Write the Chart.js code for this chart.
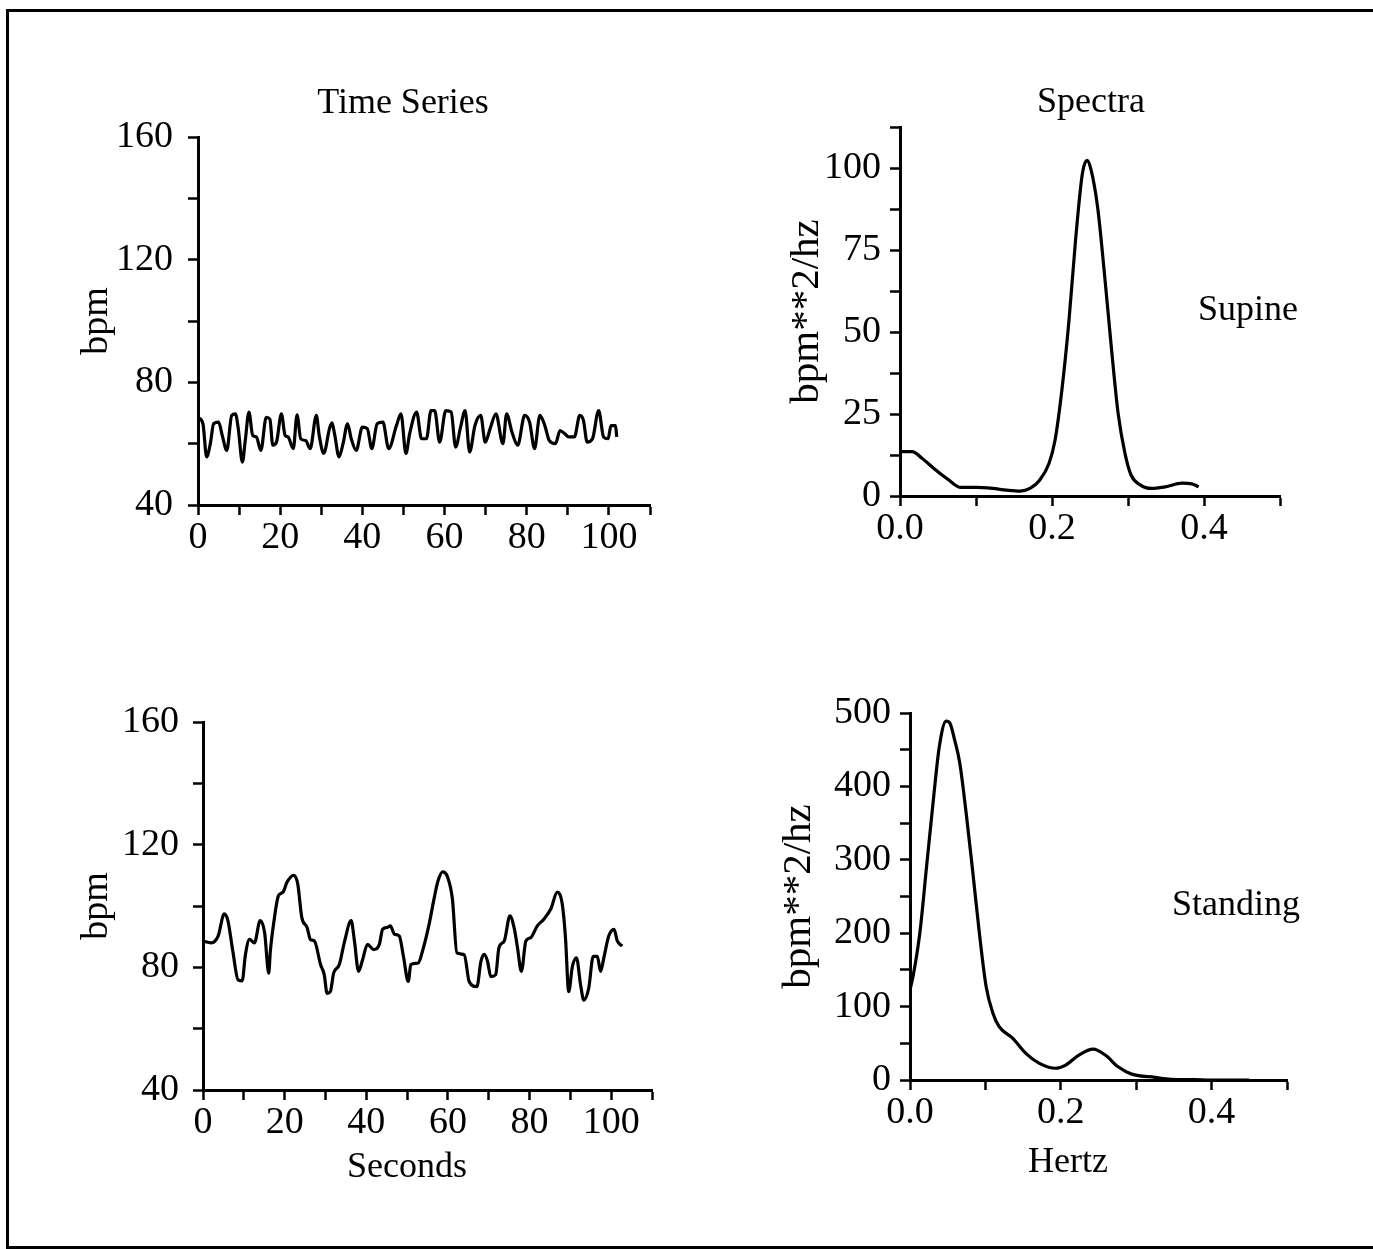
<!DOCTYPE html>
<html>
<head>
<meta charset="utf-8">
<title>Heart rate: time series and spectra</title>
<script src="https://cdn.jsdelivr.net/npm/chart.js@4.4.0/dist/chart.umd.min.js"></script>
<style>
  html, body { margin: 0; padding: 0; background: #fff; overflow: hidden; }
  body { width: 1373px; height: 1249px; position: relative; font-family: 'Liberation Serif', 'Times New Roman', serif; }
  #frame { position: absolute; left: 6px; top: 9px; width: 1600px; height: 1234px; border: 3px solid #000; border-right: none; }
  .box { position: absolute; }
  .box canvas { display: block; }
  .label { position: absolute; font-size: 36px; color: #000; transform: translate(-50%, -50%); white-space: nowrap; }
</style>
</head>
<body>
<div id="frame"></div>

<div class="box" id="boxA"><canvas id="chartA"></canvas></div>
<div class="box" id="boxB"><canvas id="chartB"></canvas></div>
<div class="box" id="boxC"><canvas id="chartC"></canvas></div>
<div class="box" id="boxD"><canvas id="chartD"></canvas></div>

<div class="label" style="left:403px; top:101px;">Time Series</div>
<div class="label" style="left:1091px; top:100px;">Spectra</div>
<div class="label" style="left:1248px; top:308px;">Supine</div>
<div class="label" style="left:1236px; top:903px;">Standing</div>
<div class="label" style="left:407px; top:1165px;">Seconds</div>
<div class="label" style="left:1068px; top:1160px;">Hertz</div>

<script>
// supine heart rate, seconds / bpm
const supineTime = [0, 1.2, 2.1, 3.0, 3.8, 5.0, 5.9, 7.0, 8.2, 9.1, 9.8, 10.8, 11.5, 12.4, 13.3, 14.2, 15.3,
  16.6, 17.5, 18.2, 19.1, 20.3, 21.2, 21.9, 23.2, 24.1, 25.0, 26.2, 27.3, 28.8, 29.5, 30.6, 32.0, 32.6,
  33.3, 34.3, 35.3, 36.4, 37.3, 38.5, 40.0, 41.2, 42.3, 43.6, 45.0, 46.4, 48.3, 49.4, 50.6, 51.5, 53.2,
  54.4, 55.6, 56.7, 57.6, 58.8, 60.3, 61.6, 62.7, 63.9, 65.0, 66.1, 67.4, 68.8, 69.9, 71.1, 72.5, 74.2,
  75.1, 76.4, 77.8, 79.5, 80.7, 81.9, 83.2, 84.4, 85.5, 87.0, 88.1, 89.3, 90.2, 91.6, 92.9, 93.8, 94.7,
  96.0, 97.5, 98.7, 99.8, 100.5, 101.6, 101.9];
const supineBpm = [68.6, 66.5, 55.7, 60, 66.5, 67, 62.7, 57.8, 69.2, 69.7, 64.9, 54, 61, 70.3, 62.7, 62.2, 57.8,
  68.6, 68, 59.5, 60.5, 69.7, 62.7, 62.2, 58.4, 69.4, 61.6, 61, 58.4, 69.2, 62.7, 56.8, 64.9, 66.8,
  62.7, 55.7, 60, 66.5, 61.6, 57.8, 65.4, 64.9, 58.4, 66.5, 67, 58.4, 65.9, 69.7, 56.8, 63.2, 70.3,
  61.6, 61.6, 70.8, 70.8, 60.5, 70.8, 70.3, 58.9, 65.4, 70.8, 57.3, 65.9, 69.2, 60.5, 64.9, 69.7, 60,
  69.7, 63.8, 59.5, 69.2, 67, 58.4, 69.2, 65.9, 61, 60, 64.3, 63.2, 62.2, 62.2, 69.2, 67.6, 60.5,
  61.6, 70.8, 62.2, 61.6, 65.9, 65.9, 62.2];

// standing heart rate, seconds / bpm
const standingTime = [0, 2, 3.7, 5.2, 6.1, 7.3, 8.6, 9.6, 10.4, 11.4, 12.6, 14, 15.1, 16.1, 16.5, 17.4, 18.5,
  19.6, 20.6, 22.2, 23.2, 24.2, 25.5, 26.3, 27.3, 28.8, 29.7, 30.4, 31.2, 32, 33.4, 34.6, 36.3, 37.1,
  38.1, 39.1, 40.3, 41.8, 43.2, 44, 45.1, 45.9, 46.9, 48.1, 49.1, 50.3, 50.9, 52.7, 54, 55.4, 56.6,
  57.5, 58.7, 59.9, 61.1, 62.2, 64, 65.2, 67.1, 68.1, 68.9, 69.7, 70.5, 71.7, 72.5, 73.8, 75.2, 76.2,
  77, 78, 79.1, 80.3, 81.9, 83.5, 85.2, 86.8, 88, 88.8, 89.6, 90.5, 91.5, 92.5, 93.3, 94.5, 95.6,
  96.6, 97.4, 98.2, 99.4, 100.7, 101.5, 102.7];
const standingBpm = [88.6, 88, 90.2, 97.4, 95.2, 85.3, 75.9, 75.6, 84.2, 89.1, 88, 95.2, 91.3, 78.1, 85.3, 95.2, 103.4,
  104.5, 107.8, 110, 107.3, 96.3, 93, 89.1, 88.6, 80.9, 77.6, 71.5, 72.1, 78.1, 80.9, 88, 95.2, 88.6,
  78.7, 82.5, 87.5, 85.8, 87.5, 92.4, 93, 93.5, 90.8, 90.2, 83.6, 75.4, 80.9, 81.4, 86.4, 94.1, 102.3,
  107.8, 111.1, 109.5, 102.3, 84.7, 84.2, 75.4, 73.7, 82, 84.2, 82, 77, 77.6, 86.4, 88.6, 96.8, 93,
  86.9, 78.7, 88.6, 89.7, 93.5, 95.7, 99, 104.5, 100.7, 89.7, 72.1, 80.3, 83.1, 74.3, 69.3, 73.2, 83.6,
  83.6, 78.7, 83.1, 90.2, 92.4, 88.6, 86.9];

// supine spectrum, hertz / bpm**2/hz
const supineFreq = [0, 0.016, 0.029, 0.047, 0.064, 0.08, 0.1, 0.122, 0.14, 0.158, 0.171, 0.184, 0.196, 0.204,
  0.213, 0.222, 0.231, 0.24, 0.246, 0.251, 0.26, 0.269, 0.278, 0.287, 0.296, 0.304, 0.316, 0.331, 0.349,
  0.371, 0.384, 0.393];
const supinePower = [13.5, 13.5, 11.5, 7.9, 4.9, 2.6, 2.6, 2.3, 1.8, 1.5, 2.3, 4.9, 9.9, 17,
  32.3, 52.6, 78, 98.3, 102.3, 99.8, 88.1, 67.8, 45.5, 25.2, 13, 6.4, 3.4, 2.3, 2.8,
  3.9, 3.7, 2.8];

// standing spectrum, hertz / bpm**2/hz
const standingFreq = [0, 0.004, 0.013, 0.022, 0.031, 0.039, 0.048, 0.053, 0.059, 0.066, 0.075, 0.083, 0.092,
  0.101, 0.11, 0.118, 0.136, 0.154, 0.171, 0.193, 0.206, 0.224, 0.243, 0.259, 0.276, 0.294, 0.325, 0.346,
  0.377, 0.4, 0.45];
const standingPower = [123, 141, 200, 291, 382, 455, 489, 486, 464, 432, 359, 286, 200,
  127, 91, 73, 57, 36, 23, 16, 20, 34, 42, 34, 18, 8, 3.6, 1,
  0.5, 0, 0];

const serif = "'Liberation Serif', 'Times New Roman', serif";

function pairs(xs, ys) {
  return xs.map((x, i) => ({ x: x, y: ys[i] }));
}

// every other tick gets a label
function everyOther(fmt) {
  return (v, i) => (i % 2 === 0 ? fmt(v) : '');
}

function scaleOpts(min, max, step, labelFn, tickPad) {
  return {
    type: 'linear',
    min: min,
    max: max,
    border: { display: true, color: '#000', width: 3 },
    grid: { drawOnChartArea: false, drawTicks: true, tickLength: 10, tickWidth: 2.5, tickColor: '#000' },
    ticks: {
      stepSize: step,
      autoSkip: false,
      maxRotation: 0,
      padding: tickPad,
      color: '#000',
      font: { family: serif, size: 38 },
      callback: labelFn
    }
  };
}

// box = where the plot area sits on the page
function makeChart(id, box, points, x, y, yTitle, titleSize, titlePad, yTickPad) {
  const yW = 140, padTop = 44, padRight = 20, xH = 62;
  const w = yW + (box.right - box.left) + padRight;
  const h = padTop + (box.bottom - box.top) + xH;

  const holder = document.getElementById('box' + id);
  holder.style.left = (box.left - yW) + 'px';
  holder.style.top = (box.top - padTop) + 'px';
  const canvas = document.getElementById('chart' + id);
  canvas.width = w;
  canvas.height = h;
  canvas.style.width = w + 'px';
  canvas.style.height = h + 'px';

  const xScale = scaleOpts(x.min, x.max, x.step, x.label, 0);
  xScale.afterFit = (s) => { s.height = xH; };
  const yScale = scaleOpts(y.min, y.max, y.step, y.label, yTickPad);
  yScale.afterFit = (s) => { s.width = yW; };
  yScale.title = {
    display: true,
    text: yTitle,
    color: '#000',
    font: { family: serif, size: titleSize },
    padding: { top: titlePad, bottom: 0 }
  };

  return new Chart(canvas, {
    type: 'line',
    data: {
      datasets: [{
        data: points,
        borderColor: '#000',
        borderWidth: 3.2,
        pointRadius: 0,
        fill: false,
        cubicInterpolationMode: 'monotone'
      }]
    },
    options: {
      responsive: false,
      animation: false,
      events: [],
      layout: { padding: { top: padTop, right: padRight, bottom: 0, left: 0 } },
      plugins: { legend: { display: false }, tooltip: { enabled: false } },
      scales: { x: xScale, y: yScale }
    }
  });
}

const secondsAxis = { min: 0, max: 110, step: 10, label: everyOther(v => v) };
const bpmAxis = { min: 40, max: 160, step: 20, label: everyOther(v => v) };
const hertzAxis = { min: 0, max: 0.5, step: 0.1, label: everyOther(v => v.toFixed(1)) };

makeChart('A', { left: 198, right: 650, top: 137, bottom: 505 },
  pairs(supineTime, supineBpm), secondsAxis, bpmAxis, 'bpm', 38, 16, 15);

makeChart('B', { left: 203, right: 652, top: 722, bottom: 1090 },
  pairs(standingTime, standingBpm), secondsAxis, bpmAxis, 'bpm', 38, 11, 14);

makeChart('C', { left: 900, right: 1280, top: 127, bottom: 496 },
  pairs(supineFreq, supinePower), hertzAxis,
  { min: 0, max: 112.5, step: 12.5, label: everyOther(v => v) }, 'bpm**2/hz', 41, 23, 9);

makeChart('D', { left: 910, right: 1287, top: 713, bottom: 1080 },
  pairs(standingFreq, standingPower), hertzAxis,
  { min: 0, max: 500, step: 50, label: everyOther(v => v) }, 'bpm**2/hz', 41, 5, 9);
</script>
</body>
</html>
